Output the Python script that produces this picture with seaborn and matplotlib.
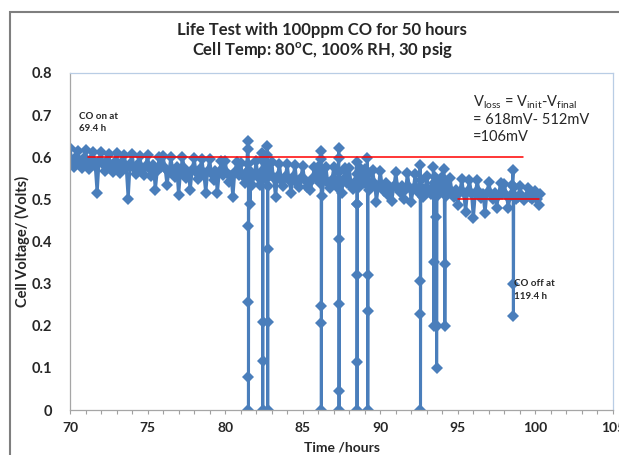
import matplotlib
matplotlib.use("Agg")
import matplotlib.pyplot as plt
import matplotlib.patches as mpatches
import numpy as np
import pandas as pd
import seaborn as sns

# ---------------- data ----------------
base_start = 70.0
base_step = 0.25
base_v = [
    0.622, 0.578, 0.616, 0.575,   # 70
    0.618, 0.572, 0.612, 0.515,   # 71
    0.613, 0.568, 0.608, 0.565,   # 72
    0.610, 0.562, 0.606, 0.501,   # 73
    0.608, 0.560, 0.603, 0.558,   # 74
    0.605, 0.556, 0.522, 0.600,   # 75
    0.603, 0.534, 0.600, 0.552,   # 76
    0.510, 0.600, 0.550, 0.522,   # 77
    0.598, 0.548, 0.596, 0.515,   # 78
    0.595, 0.545, 0.515, 0.592,   # 79
    0.592, 0.542, 0.506, 0.588,   # 80
    0.587, 0.540, 0.585, 0.535,   # 81
    0.590, 0.535, 0.588, 0.532,   # 82
    0.588, 0.505, 0.585, 0.532,   # 83
    0.584, 0.516, 0.582, 0.530,   # 84
    0.580, 0.530, 0.522, 0.578,   # 85
    0.578, 0.507, 0.576, 0.528,   # 86
    0.576, 0.527, 0.516, 0.574,   # 87
    0.574, 0.525, 0.490, 0.572,   # 88
    0.572, 0.522, 0.570, 0.494,   # 89
    0.568, 0.520, 0.510, 0.497,   # 90
    0.564, 0.518, 0.500, 0.562,   # 91
    0.494, 0.560, 0.515, 0.505,   # 92
    0.556, 0.512, 0.554, 0.510,   # 93
    0.553, 0.508, 0.550, 0.505,   # 94
    0.487, 0.548, 0.470, 0.546,   # 95
    0.455, 0.545, 0.503, 0.467,   # 96
    0.542, 0.502, 0.480, 0.540,   # 97
    0.537, 0.480, 0.535, 0.500,   # 98
    0.532, 0.498, 0.528, 0.500,   # 99
    0.520, 0.487,                 # 100
]
base_t = [round(base_start + i * base_step, 3) for i in range(len(base_v))]

mid_start = 70.125
mid_v = [
    0.590, 0.600, 0.585, 0.598,   # 70
    0.588, 0.595, 0.580, 0.592,   # 71
    0.585, 0.590, 0.578, 0.588,   # 72
    0.580, 0.588, 0.575, 0.585,   # 73
    0.575, 0.585, 0.572, 0.580,   # 74
    0.572, 0.582, 0.568, 0.578,   # 75
    0.575, 0.565, 0.570, 0.578,   # 76
    0.565, 0.575, 0.562, 0.570,   # 77
    0.565, 0.572, 0.560, 0.568,   # 78
    0.560, 0.568, 0.565, 0.558,   # 79
    0.562, 0.555, 0.565, 0.558,   # 80
    0.555, 0.562, 0.550, 0.558,   # 81
    0.552, 0.560, 0.548, 0.558,   # 82
    0.550, 0.556, 0.545, 0.552,   # 83
    0.545, 0.552, 0.540, 0.550,   # 84
    0.545, 0.540, 0.548, 0.550,   # 85
    0.540, 0.548, 0.538, 0.545,   # 86
    0.540, 0.535, 0.545, 0.540,   # 87
    0.535, 0.542, 0.530, 0.540,   # 88
    0.535, 0.530, 0.540, 0.532,   # 89
    0.530, 0.538, 0.528, 0.532,   # 90
    0.528, 0.532, 0.522, 0.530,   # 91
    0.525, 0.522, 0.530, 0.522,   # 92
    0.522, 0.528, 0.520, 0.525,   # 93
    0.520, 0.525, 0.518, 0.522,   # 94
    0.518, 0.515, 0.520, 0.515,   # 95
    0.515, 0.518, 0.512, 0.515,   # 96
    0.512, 0.515, 0.510, 0.512,   # 97
    0.510, 0.508, 0.510, 0.506,   # 98
    0.508, 0.505, 0.505, 0.506,   # 99
    0.502,                        # 100
]
mid_t = [round(mid_start + i * base_step, 3) for i in range(len(mid_v))]

final_t = [100.3]
final_v = [0.512]

spike_t = [81.46, 81.48, 81.50, 81.501, 81.502, 81.503, 81.52, 81.62, 81.66,
           82.40, 82.41, 82.42, 82.421, 82.422, 82.44,
           82.72, 82.73, 82.74, 82.741, 82.742, 82.76,
           86.18, 86.19, 86.20, 86.201, 86.202, 86.22,
           87.32, 87.33, 87.34, 87.341, 87.342, 87.343, 87.36,
           88.48, 88.50, 88.501, 88.502, 88.503, 88.52,
           89.17, 89.19, 89.191, 89.192, 89.21,
           92.57, 92.59, 92.591, 92.592, 92.61,
           93.43, 93.45, 93.451, 93.46,
           93.62, 93.63, 93.631, 93.65,
           94.10, 94.16, 94.161, 94.18,
           98.56, 98.58, 98.581, 98.60]
spike_v = [0.638, 0.620, 0.437, 0.256, 0.078, 0.0, 0.570, 0.489, 0.560,
           0.611, 0.595, 0.209, 0.116, 0.0, 0.570,
           0.627, 0.605, 0.383, 0.208, 0.0, 0.575,
           0.616, 0.595, 0.248, 0.206, 0.0, 0.570,
           0.621, 0.598, 0.406, 0.251, 0.045, 0.0, 0.565,
           0.589, 0.490, 0.320, 0.113, 0.0, 0.560,
           0.599, 0.320, 0.236, 0.0, 0.560,
           0.582, 0.306, 0.227, 0.0, 0.545,
           0.578, 0.351, 0.200, 0.540,
           0.458, 0.200, 0.099, 0.540,
           0.571, 0.347, 0.199, 0.540,
           0.570, 0.299, 0.222, 0.530]

ref_lines = {"init": (71.16, 99.2, 0.60), "final": (95.04, 100.24, 0.50)}

x_ticks = [70, 75, 80, 85, 90, 95, 100, 105]
y_ticks = [0, 0.1, 0.2, 0.3, 0.4, 0.5, 0.6, 0.7, 0.8]
y_tick_labels = ["0", "0.1", "0.2", "0.3", "0.4", "0.5", "0.6", "0.7", "0.8"]

# ---------------- frame ----------------
df = pd.DataFrame({"time": base_t + mid_t + final_t + spike_t,
                   "voltage": base_v + mid_v + final_v + spike_v})
df = df.sort_values("time", kind="mergesort").reset_index(drop=True)

sns.set_style("white")
plt.rcParams["font.family"] = ["Lato", "DejaVu Sans"]
plt.rcParams["mathtext.fontset"] = "custom"
plt.rcParams["mathtext.rm"] = "Lato"
plt.rcParams["mathtext.it"] = "Lato:italic"
plt.rcParams["mathtext.bf"] = "Lato:bold"

W, H = 619, 455
fig = plt.figure(figsize=(W / 100, H / 100), dpi=100)
ax = fig.add_axes([70 / W, (H - 410) / H, (613 - 70) / W, (410 - 73) / H])

blue = "#4a7ebb"
sns.lineplot(data=df, x="time", y="voltage", ax=ax, sort=False, estimator=None,
             color=blue, linewidth=2.2, marker="D", markersize=6,
             markeredgewidth=0, markerfacecolor=blue)

for key, (x0, x1, yv) in ref_lines.items():
    ax.plot([x0, x1], [yv, yv], color="#ff0000", linewidth=1.1, zorder=5)

ax.set_xlim(70, 105)
ax.set_ylim(0, 0.8)
ax.set_xticks(x_ticks)
ax.set_xticklabels([str(v) for v in x_ticks], fontweight="bold", fontsize=10)
ax.set_xticks(np.arange(70, 106, 1), minor=True)
ax.set_yticks(y_ticks)
ax.set_yticklabels(y_tick_labels, fontweight="bold", fontsize=10.5)
ax.tick_params(axis="x", which="both", direction="out", length=3, width=0.8,
               color="#a0a0a0", pad=6, bottom=True)
ax.tick_params(axis="y", length=0, pad=13)

ax.set_xlabel("Time /hours", fontweight="bold", fontsize=10, labelpad=5)
ax.set_ylabel("Cell Voltage/ (Volts)", fontweight="bold", fontsize=10.5, labelpad=1)

for s in ["left", "bottom"]:
    ax.spines[s].set_color("#a6a6a6")
    ax.spines[s].set_linewidth(0.9)
for s in ["top", "right"]:
    ax.spines[s].set_color("#b9cde5")
    ax.spines[s].set_linewidth(0.9)

# titles
fig.text(322 / W, 1 - 30 / H, "Life Test with 100ppm CO for 50 hours",
         ha="center", va="center", fontsize=12, fontweight="bold")
fig.text(322 / W, 1 - 50 / H, r"Cell Temp: 80$^{\mathbf{o}}$C, 100% RH, 30 psig",
         ha="center", va="center", fontsize=12, fontweight="bold")

# annotations
ax.text(70.55, 0.708, "CO on at\n69.4 h", fontsize=7, fontweight="bold",
        ha="left", va="top", linespacing=1.5)
ax.text(98.6, 0.31, "CO off at\n119.4 h", fontsize=7, fontweight="bold",
        ha="left", va="top", linespacing=1.5)
ax.text(96.0, 0.752,
        r"V$_{\mathrm{loss}}$ = V$_{\mathrm{init}}$-V$_{\mathrm{final}}$"
        "\n= 618mV- 512mV\n=106mV",
        fontsize=10.5, ha="left", va="top", linespacing=1.25)

# outer chart frame (cropped)
fig.add_artist(mpatches.Rectangle((10 / W, -0.1), 1.5, (H - 12) / H + 0.1,
                                  transform=fig.transFigure, fill=False,
                                  edgecolor="#7f7f7f", linewidth=1.5))

fig.savefig("out.png", dpi=100, facecolor="white")
